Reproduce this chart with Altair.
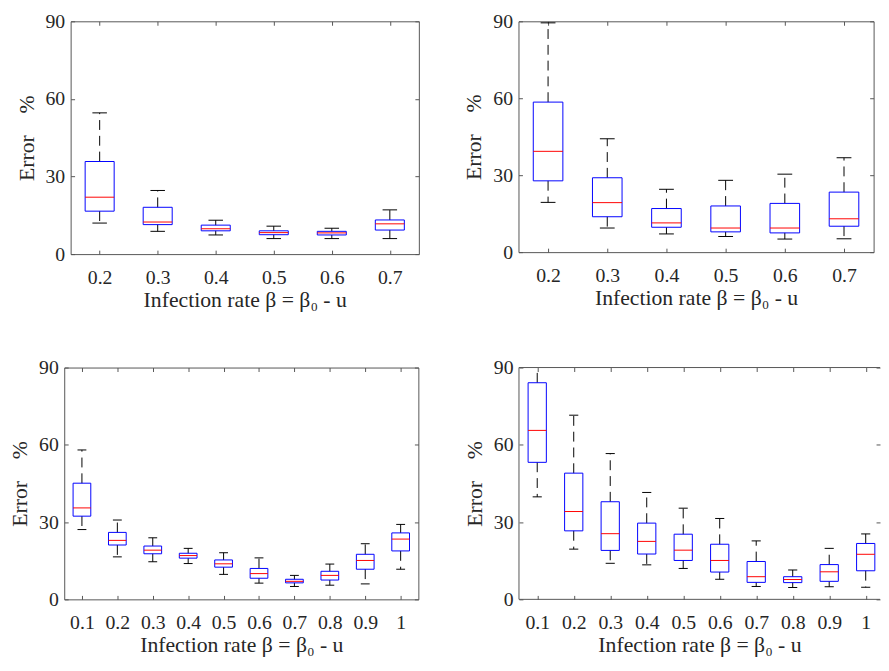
import altair as alt
import pandas as pd

FONT = "Liberation Serif, Times New Roman, Times, serif"
TXT = "#262626"
FRAME = "#555555"
XTITLE = "Infection rate β = β₀ - u"
YTITLE = "Error\u00a0\u00a0\u00a0\u00a0%"

# ---- values ----
p1_labels = ["0.2", "0.3", "0.4", "0.5", "0.6", "0.7"]
p1_lo = [12.0, 8.8, 7.4, 6.0, 6.0, 6.0]
p1_q1 = [16.6, 11.4, 9.0, 7.5, 7.4, 9.3]
p1_med = [22.0, 12.4, 9.8, 8.3, 8.2, 11.7]
p1_q3 = [35.8, 18.1, 11.2, 9.0, 8.8, 13.2]
p1_hi = [54.6, 24.6, 13.1, 10.8, 10.0, 17.1]

p2_labels = ["0.2", "0.3", "0.4", "0.5", "0.6", "0.7"]
p2_lo = [19.4, 9.4, 7.1, 6.1, 5.1, 5.2]
p2_q1 = [27.8, 13.8, 9.7, 7.9, 7.5, 10.1]
p2_med = [39.3, 19.3, 11.4, 9.4, 9.4, 13.0]
p2_q3 = [58.5, 29.0, 17.0, 18.0, 19.0, 23.4]
p2_hi = [89.4, 44.2, 24.5, 28.0, 30.4, 36.8]

p3_labels = ["0.1", "0.2", "0.3", "0.4", "0.5", "0.6", "0.7", "0.8", "0.9", "1"]
p3_lo = [27.1, 16.5, 14.6, 13.9, 9.7, 6.3, 5.0, 5.5, 6.0, 11.7]
p3_q1 = [32.3, 21.1, 17.7, 16.0, 12.5, 8.2, 6.4, 7.5, 11.7, 18.8]
p3_med = [35.5, 22.9, 19.1, 17.0, 13.8, 10.0, 7.0, 9.3, 15.1, 23.4]
p3_q3 = [45.1, 26.0, 20.7, 17.9, 15.3, 12.0, 7.8, 10.9, 17.5, 25.8]
p3_hi = [58.0, 30.8, 23.9, 19.8, 18.1, 16.1, 9.3, 13.7, 21.6, 29.1]

p4_labels = ["0.1", "0.2", "0.3", "0.4", "0.5", "0.6", "0.7", "0.8", "0.9", "1"]
p4_lo = [39.8, 19.5, 14.0, 13.4, 12.0, 7.8, 5.0, 4.6, 4.9, 4.7]
p4_q1 = [53.2, 26.6, 19.0, 17.6, 15.1, 10.6, 6.6, 6.5, 7.0, 11.1]
p4_med = [65.6, 34.1, 25.5, 22.5, 19.1, 15.1, 8.8, 7.7, 10.7, 17.5]
p4_q3 = [84.1, 49.0, 37.9, 29.6, 25.3, 21.4, 14.7, 8.8, 13.5, 21.7]
p4_hi = [95.0, 71.5, 56.6, 41.5, 35.4, 31.4, 22.7, 11.4, 19.8, 25.4]

Y_TICKS = [0, 30, 60, 90]


def make_panel(labels, lo, q1, med, q3, hi, width, height, xmax=None, frame=True):
    n = len(labels)
    df = pd.DataFrame({
        "pos": list(range(1, n + 1)), "label": labels,
        "lo": lo, "q1": q1, "med": med, "q3": q3, "hi": hi,
    })
    xdom = [0.5, xmax if xmax is not None else n + 0.5]
    xs = alt.Scale(domain=xdom, nice=False, zero=False)
    ys = alt.Scale(domain=[0, 90], nice=False, zero=False)
    pos = list(range(1, n + 1))
    label_arr = "[" + ",".join("'%s'" % l for l in labels) + "]"

    ax_bottom = alt.Axis(orient="bottom", values=pos,
                         labelExpr=label_arr + "[datum.value-1]",
                         title=XTITLE, offset=-4, tickSize=4, labelPadding=14,
                         titlePadding=2, domain=False, grid=False)
    ax_left = alt.Axis(orient="left", values=Y_TICKS, title=YTITLE, offset=-4,
                       tickSize=4, labelPadding=6, titlePadding=7,
                       domain=False, grid=False, format="d")
    ax_top = alt.Axis(orient="top", values=pos, labels=False, title=None,
                      offset=-4, tickSize=4, domain=False, grid=False)
    ax_right = alt.Axis(orient="right", values=Y_TICKS, labels=False, title=None,
                        offset=-4, tickSize=4, domain=False, grid=False)

    base = alt.Chart(df).transform_calculate(
        xl="datum.pos - 0.25", xr="datum.pos + 0.25",
        cl="datum.pos - 0.125", cr="datum.pos + 0.125",
    )
    clip = not frame
    w_up = base.mark_rule(color="black", strokeDash=[10, 6], strokeWidth=1, clip=clip).encode(
        x=alt.X("pos:Q", scale=xs, axis=ax_bottom),
        y=alt.Y("q3:Q", scale=ys, axis=ax_left), y2="hi:Q")
    w_lo = base.mark_rule(color="black", strokeDash=[10, 6], strokeWidth=1).encode(
        x=alt.X("pos:Q", scale=xs, axis=ax_top),
        y=alt.Y("q1:Q", scale=ys, axis=ax_right), y2="lo:Q")
    cap_up = base.mark_rule(color="black", strokeWidth=1, clip=clip).encode(
        x=alt.X("cl:Q", scale=xs, axis=None), x2="cr:Q",
        y=alt.Y("hi:Q", scale=ys, axis=None))
    cap_lo = base.mark_rule(color="black", strokeWidth=1).encode(
        x=alt.X("cl:Q", scale=xs, axis=None), x2="cr:Q",
        y=alt.Y("lo:Q", scale=ys, axis=None))
    box = base.mark_rect(fill="white", fillOpacity=0, stroke="#0000ff",
                         strokeWidth=1).encode(
        x=alt.X("xl:Q", scale=xs, axis=None), x2="xr:Q",
        y=alt.Y("q1:Q", scale=ys, axis=None), y2="q3:Q")
    median = base.mark_rule(color="#ff0000", strokeWidth=1).encode(
        x=alt.X("xl:Q", scale=xs, axis=None), x2="xr:Q",
        y=alt.Y("med:Q", scale=ys, axis=None))

    layers = [w_up, w_lo, cap_up, cap_lo, box, median]
    if not frame:
        fr = pd.DataFrame({"x0": [xdom[0]], "x1": [xdom[1]], "y0": [0], "y1": [90]})
        fb = alt.Chart(fr)
        layers.append(fb.mark_rule(color=FRAME, strokeWidth=1).encode(
            x=alt.X("x0:Q", scale=xs, axis=None),
            y=alt.Y("y0:Q", scale=ys, axis=None), y2="y1:Q"))
        layers.append(fb.mark_rule(color=FRAME, strokeWidth=1).encode(
            x=alt.X("x0:Q", scale=xs, axis=None), x2="x1:Q",
            y=alt.Y("y1:Q", scale=ys, axis=None)))
        layers.append(fb.mark_rule(color=FRAME, strokeWidth=1).encode(
            x=alt.X("x0:Q", scale=xs, axis=None), x2="x1:Q",
            y=alt.Y("y0:Q", scale=ys, axis=None)))
    ch = alt.layer(*layers).resolve_axis(x="independent", y="independent")
    props = dict(width=width, height=height)
    if not frame:
        props["view"] = alt.ViewBackground(stroke="transparent")
    return ch.properties(**props)


p1 = make_panel(p1_labels, p1_lo, p1_q1, p1_med, p1_q3, p1_hi, 353, 236)
p2 = make_panel(p2_labels, p2_lo, p2_q1, p2_med, p2_q3, p2_hi, 360, 234)
p3 = make_panel(p3_labels, p3_lo, p3_q1, p3_med, p3_q3, p3_hi, 359, 235)
p4 = make_panel(p4_labels, p4_lo, p4_q1, p4_med, p4_q3, p4_hi, 366, 235,
                xmax=0.5 + 10 * 366 / 370, frame=False)

row1 = alt.hconcat(p1, p2, spacing=101, bounds="flush")
row2 = alt.hconcat(p3, p4, spacing=102, bounds="flush")

chart = alt.vconcat(row1, row2, spacing=46, center=True).configure_view(
    stroke=FRAME, strokeWidth=1
).configure_axis(
    labelFont=FONT, titleFont=FONT, labelFontSize=20, titleFontSize=22,
    labelColor=TXT, titleColor=TXT, tickColor=FRAME, tickWidth=1,
    titleFontWeight="normal",
).properties(
    padding={"left": 0, "top": -2, "right": 0, "bottom": 0},
    background="white",
)

chart.save("out.html", embed_options={"renderer": "svg", "actions": False})
